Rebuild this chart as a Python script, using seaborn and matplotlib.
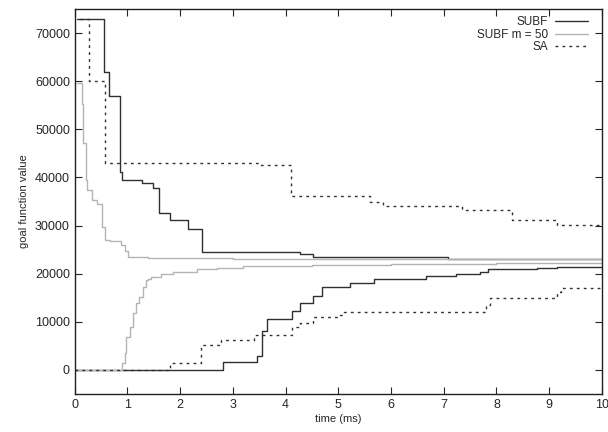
import pandas as pd
import seaborn as sns
import matplotlib.pyplot as plt

# step points (time in ms, goal function value)
subf_up_t = [0.05, 0.55, 0.65, 0.85, 0.9, 1.27, 1.48, 1.6, 1.8, 2.14, 2.41, 4.27, 4.52, 7.08, 10.0]
subf_up_v = [73000, 62000, 57000, 41200, 39500, 38900, 37800, 32600, 31200, 29300, 24500, 24000, 23400, 23000, 23000]
subf_lo_t = [0.0, 2.81, 3.45, 3.55, 3.64, 4.13, 4.27, 4.51, 4.69, 5.22, 5.68, 6.66, 7.24, 7.68, 7.84, 8.77, 9.14, 10.0]
subf_lo_v = [0, 1700, 2800, 8000, 10500, 12300, 13900, 15400, 17200, 18100, 19000, 19600, 19900, 20400, 20900, 21200, 21400, 21400]

m50_up_t = [0.05, 0.13, 0.16, 0.21, 0.23, 0.32, 0.42, 0.52, 0.57, 0.66, 0.87, 0.95, 1.01, 1.39, 3.0, 6.0, 10.0]
m50_up_v = [59600, 55300, 47100, 39500, 37400, 35300, 34500, 29800, 27000, 26700, 26000, 24800, 23400, 23200, 23100, 23000, 22900]
m50_lo_t = [0.0, 0.87, 0.9, 0.95, 0.98, 1.04, 1.11, 1.17, 1.21, 1.3, 1.35, 1.39, 1.45, 1.64, 1.87, 2.31, 2.69, 3.19, 4.5, 6.0, 8.0, 10.0]
m50_lo_v = [0, 0, 1500, 3500, 6900, 9000, 11800, 13900, 15200, 17300, 18700, 19000, 19400, 20000, 20300, 20900, 21200, 21600, 21900, 22100, 22300, 22400]

sa_up_t = [0.1, 0.27, 0.58, 3.51, 4.11, 5.6, 5.85, 7.34, 8.29, 9.14, 10.0]
sa_up_v = [73000, 60100, 43000, 42600, 36200, 34800, 34100, 33300, 31200, 30100, 30100]
sa_lo_t = [0.0, 1.8, 2.4, 2.78, 3.4, 4.13, 4.27, 4.52, 5.03, 5.11, 7.81, 7.87, 9.14, 9.23, 10.0]
sa_lo_v = [0, 1500, 5200, 6200, 7300, 9000, 9800, 11100, 11400, 12100, 13500, 15000, 16100, 17100, 17100]

sns.set_style("ticks")
plt.rcParams['font.family'] = ['Liberation Sans', 'DejaVu Sans']

fig = plt.figure(figsize=(6.08, 4.32), dpi=100)
ax = fig.add_axes([0.123, 0.088, 0.867, 0.891])

series = [
    ('SUBF', '#303030', '-', [(subf_up_t, subf_up_v), (subf_lo_t, subf_lo_v)]),
    ('SUBF m = 50', '#b4b4b4', '-', [(m50_up_t, m50_up_v), (m50_lo_t, m50_lo_v)]),
    ('SA', '#303030', (0, (2, 3)), [(sa_up_t, sa_up_v), (sa_lo_t, sa_lo_v)]),
]

for name, color, ls, parts in series:
    for i, (t, v) in enumerate(parts):
        df = pd.DataFrame({'time': t, 'value': v})
        sns.lineplot(data=df, x='time', y='value', ax=ax, color=color, linestyle=ls,
                     linewidth=1.0, drawstyle='steps-post', estimator=None,
                     label=name if i == 0 else None)

ax.set_xlim(0, 10)
ax.set_ylim(-5000, 75000)
ax.set_xticks(range(0, 11))
ax.set_yticks(range(0, 70001, 10000))
ax.tick_params(direction='in', top=True, right=True, labelsize=9, length=5, width=0.8)
for s in ax.spines.values():
    s.set_linewidth(1.0)
    s.set_color('#202020')
ax.set_xlabel('time (ms)', fontsize=8, labelpad=2)
ax.set_ylabel('goal function value', fontsize=8, labelpad=4)

ax.legend(loc='upper right', bbox_to_anchor=(0.987, 1.0), frameon=False,
          markerfirst=False, fontsize=8.5, handlelength=2.8, handletextpad=0.6,
          borderaxespad=0.2, labelspacing=0.05)

fig.savefig('out.png', dpi=100)
